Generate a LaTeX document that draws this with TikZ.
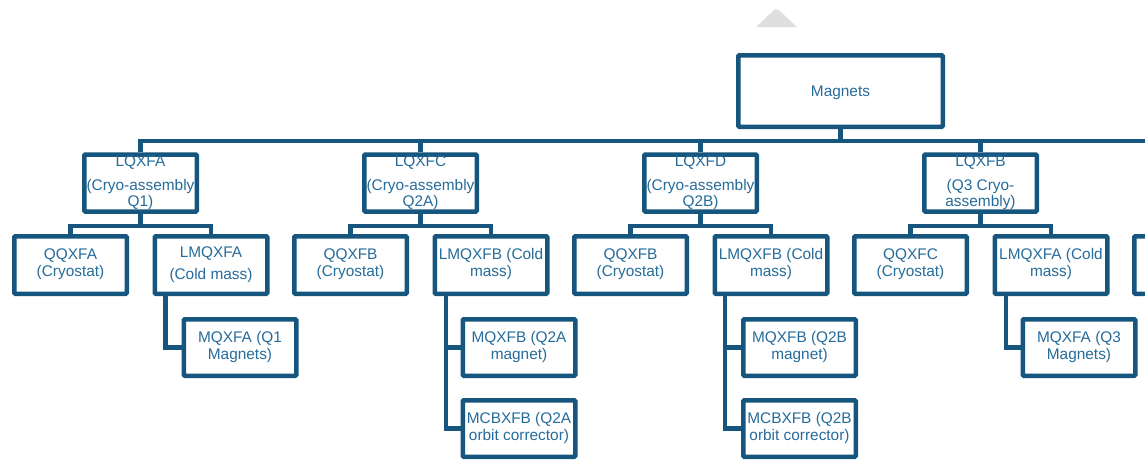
\documentclass[tikz,border=0pt]{standalone}
\usepackage{fontspec}
\setmainfont{Liberation Sans}

\definecolor{boxblue}{RGB}{22,86,126}
\definecolor{textblue}{RGB}{38,108,155}

\tikzset{
  box/.style={draw=boxblue, line width=4.5pt, rounded corners=1pt, fill=white,
    text=textblue, inner sep=0pt, font=\fontsize{15.4}{17}\selectfont},
  top/.style={minimum width=204.5pt, minimum height=71.5pt, text height=15pt, text depth=3pt},
  group/.style={minimum width=112.5pt, minimum height=55.5pt},
  part/.style={minimum width=112.5pt, minimum height=57.5pt},
  sub/.style={minimum width=112.5pt, minimum height=56.5pt},
  link/.style={draw=boxblue, line width=4.5pt},
}

\begin{document}
\begin{tikzpicture}[x=1pt,y=-1pt]

\useasboundingbox (0,0) rectangle (1145,459);
\clip (0,0) rectangle (1145,459);

\fill[gray!25] (756,27) -- (772,12) .. controls (776,8) .. (781,12) -- (797,27) -- cycle;

%% Kopf %%%%%%%%%%%%%%%%%%%%%%%%%%%%%%%%%%%%%%%%
\draw (840.5,91) node (magnets) [box,top]{
  \begin{tabular}{@{}c@{}}
    Magnets
  \end{tabular}};

\coordinate (busend) at (1160,141);

%% Q1 %%%%%%%%%%%%%%%%%%%%%%%%%%%%%%%%%%%%%%%%%%
\draw (140.5,183) node (lqxfa) [box,group]{
  \begin{tabular}{@{}c@{}}
    LQXFA\\[7pt] (Cryo-assembly\\[-1pt] Q1)
  \end{tabular}};

%% Labels
\draw (70.5,265) node (qqxfa) [box,part]{
  \begin{tabular}{@{}c@{}}
    QQXFA\\ (Cryostat)
  \end{tabular}};

%% Labels
\draw (211,265) node (lmqxfa) [box,part]{
  \begin{tabular}{@{}c@{}}
    LMQXFA\\[5pt] (Cold mass)
  \end{tabular}};

\draw (240,347.5) node (mqxfa) [box,sub]{
  \begin{tabular}{@{}c@{}}
    MQXFA (Q1\\ Magnets)
  \end{tabular}};

%% Q2A %%%%%%%%%%%%%%%%%%%%%%%%%%%%%%%%%%%%%%%%%
\draw (420.5,183) node (lqxfc) [box,group]{
  \begin{tabular}{@{}c@{}}
    LQXFC\\[7pt] (Cryo-assembly\\[-1pt] Q2A)
  \end{tabular}};

%% Labels
\draw (350.5,265) node (qqxfb) [box,part]{
  \begin{tabular}{@{}c@{}}
    QQXFB\\ (Cryostat)
  \end{tabular}};

%% Labels
\draw (491,265) node (lmqxfb) [box,part]{
  \begin{tabular}{@{}c@{}}
    LMQXFB (Cold\\ mass)
  \end{tabular}};

\draw (519,347.5) node (mqxfb) [box,sub]{
  \begin{tabular}{@{}c@{}}
    MQXFB (Q2A\\ magnet)
  \end{tabular}};

\draw (519,428.5) node (mcbxfb) [box,sub]{
  \begin{tabular}{@{}c@{}}
    MCBXFB (Q2A\\ orbit corrector)
  \end{tabular}};

%% Q2B %%%%%%%%%%%%%%%%%%%%%%%%%%%%%%%%%%%%%%%%%
\draw (700.5,183) node (lqxfd) [box,group]{
  \begin{tabular}{@{}c@{}}
    LQXFD\\[7pt] (Cryo-assembly\\[-1pt] Q2B)
  \end{tabular}};

%% Labels
\draw (630.5,265) node (qqxfbb) [box,part]{
  \begin{tabular}{@{}c@{}}
    QQXFB\\ (Cryostat)
  \end{tabular}};

%% Labels
\draw (771,265) node (lmqxfbb) [box,part]{
  \begin{tabular}{@{}c@{}}
    LMQXFB (Cold\\ mass)
  \end{tabular}};

\draw (799.5,347.5) node (mqxfbb) [box,sub]{
  \begin{tabular}{@{}c@{}}
    MQXFB (Q2B\\ magnet)
  \end{tabular}};

\draw (799.5,428.5) node (mcbxfbb) [box,sub]{
  \begin{tabular}{@{}c@{}}
    MCBXFB (Q2B\\ orbit corrector)
  \end{tabular}};

%% Q3 %%%%%%%%%%%%%%%%%%%%%%%%%%%%%%%%%%%%%%%%%%
\draw (980.5,183) node (lqxfb) [box,group]{
  \begin{tabular}{@{}c@{}}
    LQXFB\\[7pt] (Q3 Cryo-\\[-1pt] assembly)
  \end{tabular}};

%% Labels
\draw (910.5,265) node (qqxfc) [box,part]{
  \begin{tabular}{@{}c@{}}
    QQXFC\\ (Cryostat)
  \end{tabular}};

%% Labels
\draw (1051,265) node (lmqxfaa) [box,part]{
  \begin{tabular}{@{}c@{}}
    LMQXFA (Cold\\ mass)
  \end{tabular}};

\draw (1079,347.5) node (mqxfaa) [box,sub]{
  \begin{tabular}{@{}c@{}}
    MQXFA (Q3\\ Magnets)
  \end{tabular}};

% angeschnitten
\draw (1190.5,265) node (nextpart) [box,part]{};

%% Verbindungen %%%%%%%%%%%%%%%%%%%%%%%%%%%%%%%%
\draw[link] (magnets.south) -- (magnets.south |- busend);
\draw[link] (lqxfa.north) |- (busend);
\draw[link] (lqxfc.north) -- (lqxfc.north |- busend);
\draw[link] (lqxfd.north) -- (lqxfd.north |- busend);
\draw[link] (lqxfb.north) -- (lqxfb.north |- busend);

\draw[link] (lqxfa.south) -- ++(0,13);
\draw[link] (qqxfa.north) -- ++(0,-8) -| (lmqxfa.north);
\draw[link] (lqxfc.south) -- ++(0,13);
\draw[link] (qqxfb.north) -- ++(0,-8) -| (lmqxfb.north);
\draw[link] (lqxfd.south) -- ++(0,13);
\draw[link] (qqxfbb.north) -- ++(0,-8) -| (lmqxfbb.north);
\draw[link] (lqxfb.south) -- ++(0,13);
\draw[link] (qqxfc.north) -- ++(0,-8) -| (lmqxfaa.north);

\draw[link] ([xshift=-45.5pt]lmqxfa.south) |- (mqxfa.west);
\draw[link] ([xshift=-45pt]lmqxfb.south) |- (mcbxfb.west);
\draw[link] (mqxfb.west) -- ([xshift=-45pt]lmqxfb.south |- mqxfb.west);
\draw[link] ([xshift=-46pt]lmqxfbb.south) |- (mcbxfbb.west);
\draw[link] (mqxfbb.west) -- ([xshift=-46pt]lmqxfbb.south |- mqxfbb.west);
\draw[link] ([xshift=-45pt]lmqxfaa.south) |- (mqxfaa.west);

\end{tikzpicture}
\end{document}
